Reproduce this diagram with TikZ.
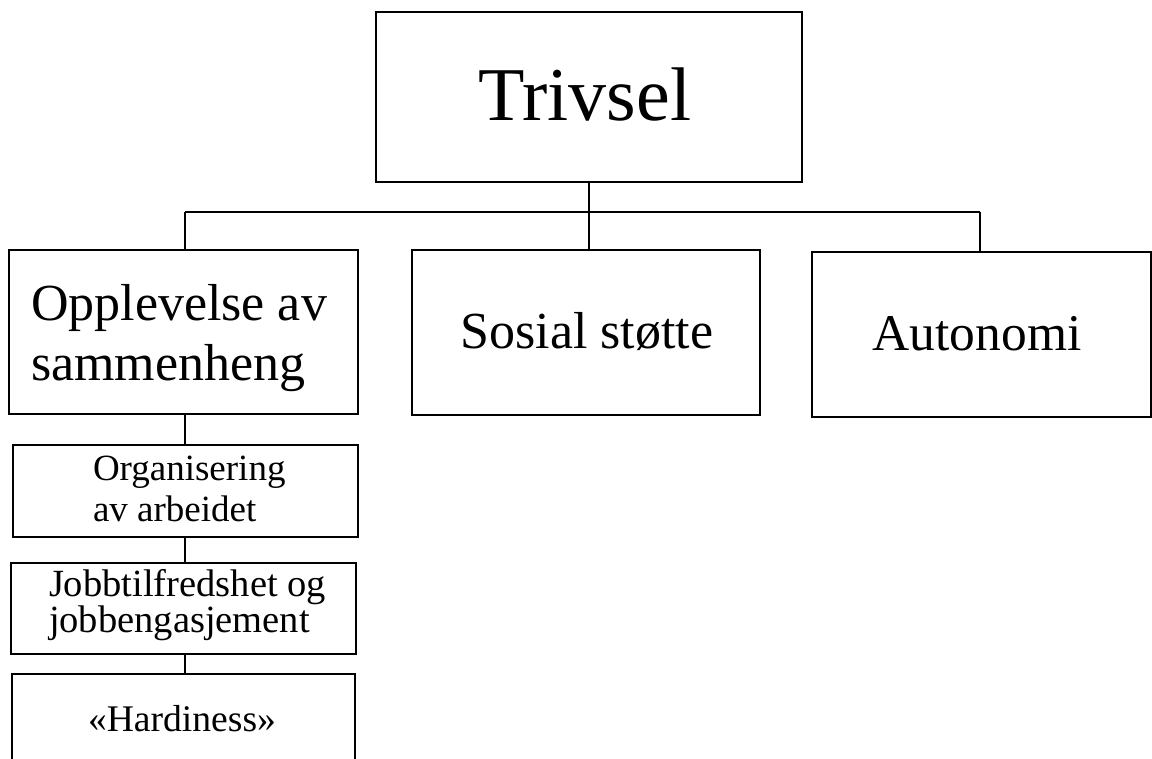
\documentclass[tikz,border=0pt]{standalone}
\usepackage{fontspec}
\setmainfont{Liberation Serif}
\begin{document}
\begin{tikzpicture}[x=1bp,y=-1bp,
  box/.style={draw=black, line width=1.4bp, fill=none, inner sep=0pt, outer sep=0pt},
  link/.style={draw=black, line width=1.4bp},
  lbl/.style={inner sep=0pt, outer sep=0pt, text=black}]
\useasboundingbox (0,0) rectangle (1152,759);
% boxes
\node[box, minimum width=426bp, minimum height=170bp] (trivsel) at (589,97) {};
\node[box, minimum width=349bp, minimum height=164bp] (opp) at (183.5,332) {};
\node[box, minimum width=348bp, minimum height=165bp] (sosial) at (586,332.5) {};
\node[box, minimum width=339bp, minimum height=165bp] (auto) at (981.5,334.5) {};
\node[box, minimum width=345bp, minimum height=92bp] (org) at (185.5,491) {};
\node[box, minimum width=345bp, minimum height=91bp] (jobb) at (183.5,608.5) {};
\node[box, minimum width=343bp, minimum height=130bp] (hard) at (183.5,739) {};
% texts
\node[lbl, anchor=base, font=\fontsize{76bp}{90bp}\selectfont] (t-trivsel) at (585,120) {Trivsel};
\node[lbl, anchor=base west] (t-opp) at (31,320)
  {\fontsize{52bp}{60bp}\selectfont\begin{tabular}[t]{@{}l@{}}Opplevelse av\\sammenheng\end{tabular}};
\node[lbl, anchor=base, font=\fontsize{52bp}{60bp}\selectfont] (t-sosial) at (587,348) {Sosial støtte};
\node[lbl, anchor=base, font=\fontsize{51.5bp}{60bp}\selectfont] (t-auto) at (977,350) {Autonomi};
\node[lbl, anchor=base west] (t-org) at (93,480)
  {\fontsize{37bp}{41bp}\selectfont\begin{tabular}[t]{@{}l@{}}Organisering\\av arbeidet\end{tabular}};
\node[lbl, anchor=base west] (t-jobb) at (49,596)
  {\fontsize{38.5bp}{33bp}\selectfont\begin{tabular}[t]{@{}l@{}}Jobbtilfredshet og\\jobbengasjement\end{tabular}};
\node[lbl, anchor=base, font=\fontsize{37.6bp}{44bp}\selectfont] (t-hard) at (182,731) {«Hardiness»};
% connectors
\coordinate (busL) at (185,212);
\coordinate (busR) at (980,212);
\draw[link] (busL) -- (busR);
\draw[link] (trivsel.south) -- (trivsel.south |- sosial.north);
\draw[link] (busL) -- (busL |- opp.north);
\draw[link] (busR) -- (busR |- auto.north);
\draw[link] (busL |- opp.south) -- (busL |- org.north);
\draw[link] (busL |- org.south) -- (busL |- jobb.north);
\draw[link] (busL |- jobb.south) -- (busL |- hard.north);
\end{tikzpicture}
\end{document}
